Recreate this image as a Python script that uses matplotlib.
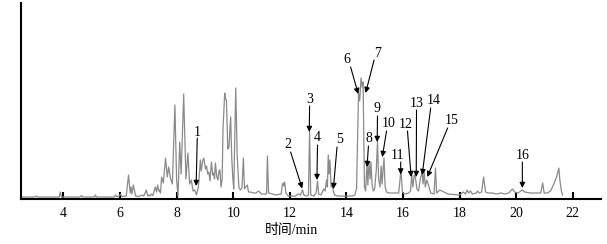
import matplotlib.pyplot as plt
import numpy as np

plt.rcParams['font.family'] = ['Liberation Serif', 'Noto Sans CJK SC']

# chromatogram trace: retention time (min), response (arb.)
rt = [2.51, 3.00, 3.05, 3.10, 3.85, 3.89, 3.93, 4.60, 4.64, 4.68, 5.10, 5.13, 5.17,
      5.80, 5.84, 5.88, 5.97, 6.02, 6.06, 6.22, 6.30, 6.36, 6.39, 6.42, 6.47, 6.55,
      6.65, 6.79, 6.84, 6.93, 6.98, 7.01, 7.06, 7.11, 7.16, 7.25, 7.29, 7.33, 7.37,
      7.39, 7.43, 7.47, 7.53, 7.61, 7.67, 7.72, 7.78, 7.85, 7.94, 8.00, 8.05, 8.11,
      8.16, 8.25, 8.33, 8.40, 8.46, 8.52, 8.58, 8.64, 8.70, 8.77, 8.84, 8.87, 8.92,
      8.96, 9.02, 9.06, 9.10, 9.14, 9.18, 9.23, 9.28, 9.31, 9.34, 9.37, 9.42, 9.46,
      9.50, 9.53, 9.57, 9.61, 9.64, 9.70, 9.73, 9.76, 9.81, 9.85, 9.91, 9.95, 9.99,
      10.02, 10.09, 10.14, 10.20, 10.25, 10.31, 10.36, 10.40, 10.44, 10.50, 10.54,
      10.60, 10.72, 10.80, 10.90, 11.00, 11.18, 11.21, 11.25, 11.40, 11.50, 11.70,
      11.73, 11.76, 11.79, 11.82, 11.86, 11.95, 12.20, 12.30, 12.38, 12.45, 12.50,
      12.60, 12.66, 12.70, 12.74, 12.85, 12.93, 12.98, 13.02, 13.10, 13.20, 13.25,
      13.30, 13.33, 13.36, 13.39, 13.42, 13.46, 13.50, 13.53, 13.58, 13.70, 14.00,
      14.20, 14.30, 14.36, 14.43, 14.47, 14.52, 14.56, 14.59, 14.64, 14.68, 14.73,
      14.76, 14.80, 14.84, 14.87, 14.91, 14.95, 15.00, 15.06, 15.10, 15.14, 15.19,
      15.23, 15.26, 15.33, 15.37, 15.42, 15.50, 15.70, 15.85, 15.93, 15.98, 16.05,
      16.20, 16.27, 16.31, 16.35, 16.40, 16.44, 16.49, 16.55, 16.62, 16.68, 16.71,
      16.75, 16.79, 16.84, 16.90, 16.98, 17.10, 17.15, 17.19, 17.30, 17.60, 18.00,
      18.14, 18.21, 18.27, 18.32, 18.39, 18.45, 18.60, 18.63, 18.70, 18.78, 18.85,
      18.92, 19.00, 19.16, 19.30, 19.45, 19.60, 19.74, 19.87, 19.95, 20.05, 20.12,
      20.22, 20.30, 20.50, 20.70, 20.87, 20.94, 20.99, 21.10, 21.22, 21.33, 21.43,
      21.51, 21.55, 21.60, 21.64]
resp = [2, 2, 3, 2, 2, 7, 2, 2, 3.5, 2, 2, 4, 2,
        2, 4, 2.5, 3, 5, 2.5, 3, 24, 6, 12, 5, 14, 3,
        2.5, 4, 3, 9, 3, 4, 3, 5, 3.5, 12, 7, 14, 8,
        9, 6, 22, 16, 41, 22, 32, 21, 15, 94, 19, 3, 57,
        25, 105, 20, 46, 15, 19, 8, 9, 4, 12, 39, 28, 38,
        41, 30, 33, 25, 27, 18, 37, 24, 26, 20, 36, 22, 19,
        28, 29, 12, 20, 70, 106, 100, 99, 50, 52, 82, 40, 20,
        10, 111, 45, 12, 9, 11, 41, 10, 12, 14, 7,
        7, 6, 6, 8, 5, 5, 43, 6, 5, 4, 5,
        14, 16, 13, 17, 6, 3, 3, 5, 4, 9, 4,
        3, 4, 68, 4, 3, 6, 18, 5, 4, 10, 8,
        19, 12, 44, 25, 39, 12, 14, 9, 4, 3, 3,
        3, 4, 10, 106, 98, 121, 112, 117, 12, 8, 36,
        14, 37, 20, 37, 14, 8, 10, 30, 58, 20, 12,
        33, 15, 41, 12, 7, 6, 6, 6, 29, 7, 5,
        6, 8, 25, 12, 24, 22, 10, 8, 21, 27, 15,
        27, 12, 19, 14, 6, 5, 31, 6, 9, 5, 4,
        7, 5, 9, 6, 8, 5, 6, 8, 6, 7, 22,
        7, 6, 6, 5, 6, 5, 6, 10, 7, 6, 7,
        9, 7, 6, 6, 6, 16, 6, 6, 8, 15, 22,
        31, 18, 8, 4]

# numbered peaks: label, arrow tip (time, response)
peak_no = ['1', '2', '3', '4', '5', '6', '7', '8', '9', '10', '11', '12', '13', '14', '15', '16']
tip_rt = [8.69, 12.44, 12.69, 12.96, 13.54, 14.42, 14.68, 14.73, 15.09, 15.27, 15.92, 16.29, 16.47, 16.68, 16.86, 20.22]
tip_resp = [13, 10.5, 67, 19, 10, 105, 106, 32, 57, 42, 24.5, 22, 22, 24, 22, 11]

# where the numbers sit, and where each arrow starts
lab_xy = [(8.73, 67), (11.93, 55), (12.71, 100), (12.97, 62), (13.77, 60), (14.01, 140),
          (15.09, 146), (14.80, 61), (15.09, 91), (15.50, 76), (15.82, 44), (16.09, 75),
          (16.48, 96), (17.09, 99), (17.71, 79), (20.22, 44)]
tail_xy = [(8.73, 61), (12.03, 47), (12.70, 93), (12.98, 54), (13.67, 52), (14.15, 132),
           (14.98, 139), (14.78, 53), (15.10, 83), (15.42, 68), (15.92, 37), (16.16, 68),
           (16.48, 89), (16.98, 91), (17.58, 71), (20.22, 37)]

fig = plt.figure(figsize=(6.07, 2.44), dpi=100)
ax = fig.add_axes([0.0346, 0.1844, 0.9555, 0.8033])

ax.plot(rt, resp, color='#8a8a8a', lw=0.9)

for n, tx, ty, lxy, txy in zip(peak_no, tip_rt, tip_resp, lab_xy, tail_xy):
    ax.annotate('', xy=(tx, ty), xytext=txy,
                arrowprops=dict(arrowstyle='-|>', color='black', lw=0.8,
                                mutation_scale=8, shrinkA=0, shrinkB=0))
    ax.text(lxy[0], lxy[1], n, ha='center', va='center', fontsize=10)

ax.set_xlim(2.5, 23.0)
ax.set_ylim(0, 196)
ax.set_xticks(np.arange(4, 23, 2))
ax.set_yticks([])
ax.tick_params(axis='x', direction='in', length=5, width=1.5, pad=6, labelsize=10)
for s in ['top', 'right']:
    ax.spines[s].set_visible(False)
for s in ['left', 'bottom']:
    ax.spines[s].set_linewidth(1.5)

ax.set_xlabel('时间/min', fontsize=10, va='center')
ax.xaxis.set_label_coords(0.466, -0.163)

fig.savefig('out.png', dpi=100)
